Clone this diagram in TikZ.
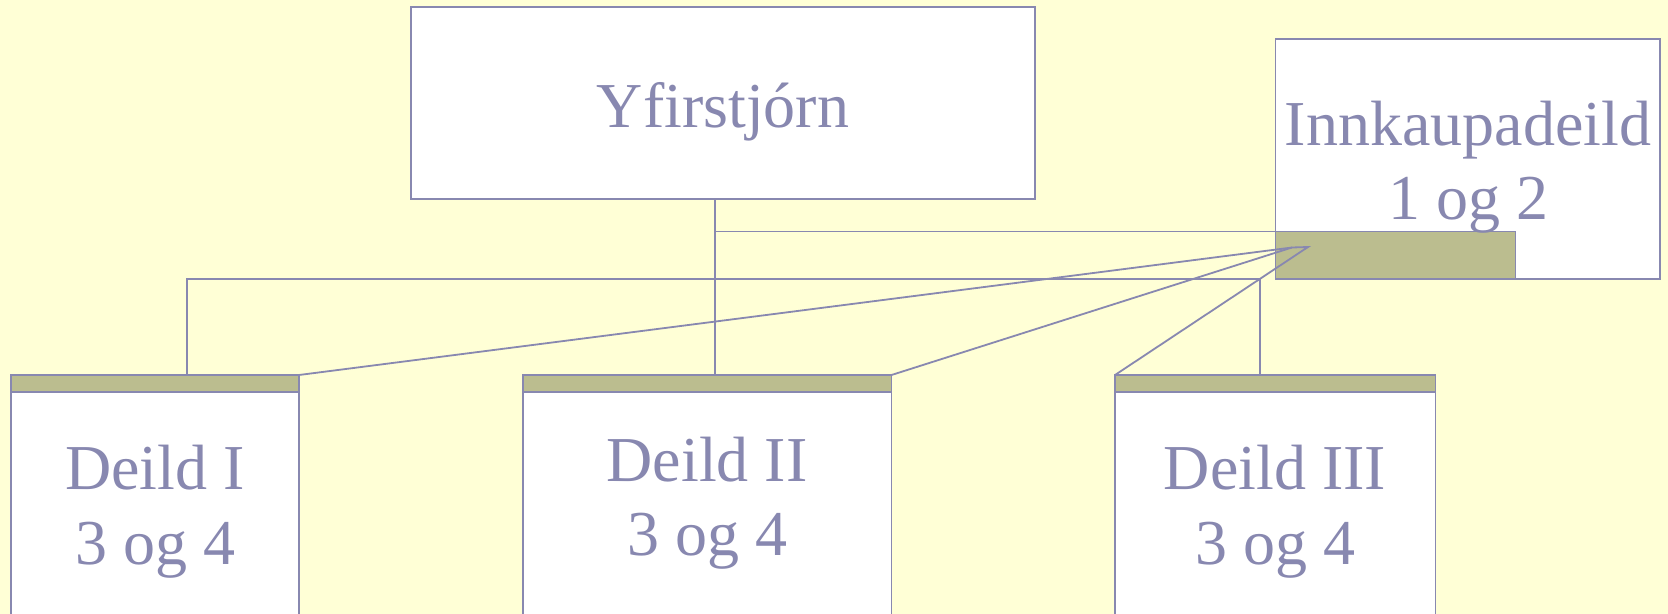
\documentclass[tikz,border=0pt]{standalone}
\usepackage{fontspec}
\setmainfont{Liberation Serif}
\usepackage{tikz}
\definecolor{bgyellow}{RGB}{255,255,214}
\definecolor{linegray}{RGB}{136,136,176}
\definecolor{barolive}{RGB}{187,189,143}

\begin{document}
\begin{tikzpicture}[x=0.5pt, y=-0.5pt, line width=0.9pt,
        box/.style={draw=linegray, fill=white, inner sep=0pt, outer sep=0pt, anchor=north west},
        bar/.style={box, fill=barolive},
        txt/.style={anchor=base, text=linegray, font=\fontsize{32}{37}\selectfont}]
                \useasboundingbox (0, 0) rectangle (1668, 614);
                \fill[bgyellow] (0, 0) rectangle (1668, 614);
                \clip (0, 0) rectangle (1668, 614);
                \node[box, minimum width=312.2pt, minimum height=95.8pt] (top) at (410.6, 7.4) {};
                \node[box, minimum width=192.25pt, minimum height=119.8pt] (ink) at (1275.5, 39.4) {};
                \node[bar, minimum width=120pt, minimum height=23.75pt] (inkbar) at (1275.5, 231.5) {};
                \node[box, minimum width=144.2pt, minimum height=130pt] (d1) at (10.6, 391.7) {};
                \node[bar, minimum width=144.2pt, minimum height=8.35pt] (d1bar) at (10.6, 375) {};
                \node[box, minimum width=184.25pt, minimum height=130pt] (d2) at (523, 391.7) {};
                \node[bar, minimum width=184.25pt, minimum height=8.35pt] (d2bar) at (523, 375) {};
                \node[box, minimum width=160.25pt, minimum height=130pt] (d3) at (1115, 391.7) {};
                \node[bar, minimum width=160.25pt, minimum height=8.35pt] (d3bar) at (1115, 375) {};
                \node[txt] (toptxt) at (723, 128) {Yfirstjórn};
                \node[txt] (inktxt) at (1468, 146) {Innkaupadeild};
                \node[txt] (inknum) at (1468, 220) {1 og 2};
                \node[txt] (d1txt) at (155, 489) {Deild I};
                \node[txt] (d1num) at (155, 564) {3 og 4};
                \node[txt] (d2txt) at (707, 481) {Deild II};
                \node[txt] (d2num) at (707, 555) {3 og 4};
                \node[txt] (d3txt) at (1275, 489) {Deild III};
                \node[txt] (d3num) at (1275, 564) {3 og 4};
                % connectors
                \coordinate (split) at (715, 199);
                \coordinate (left) at (187, 279);
                \coordinate (right) at (1260, 279);
                \coordinate (tipa) at (1292, 247.5);
                \coordinate (tipb) at (1308, 247);
                \draw[linegray] (split) -- (split |- d2bar.north);
                \draw[linegray] (split |- inkbar.north west) -- (inkbar.north west);
                \draw[linegray] (left |- d1bar.north) -- (left) -- (right) -- (right |- d3bar.north);
                \draw[linegray] (d1bar.north east) -- (tipa);
                \draw[linegray] (d2bar.north east) -- (tipa) -- (tipb) -- (d3bar.north west);
        \end{tikzpicture}
\end{document}
